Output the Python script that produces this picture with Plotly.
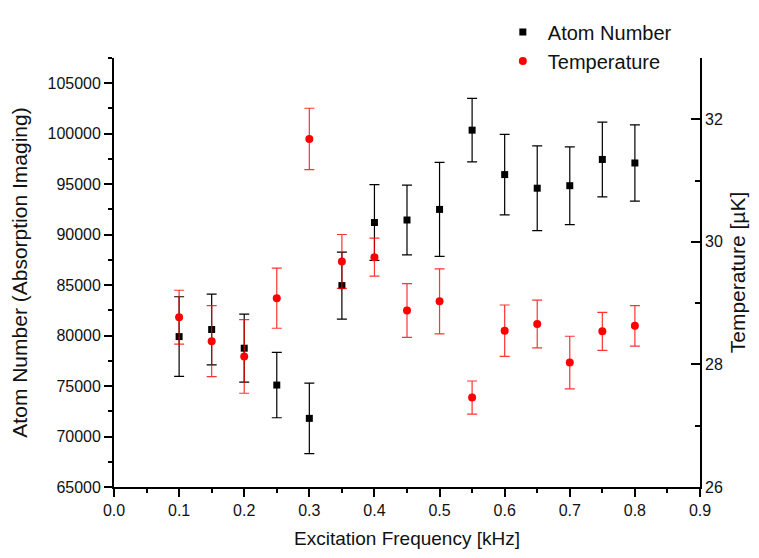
import plotly.graph_objects as go

freq = [0.1, 0.15, 0.2, 0.25, 0.3, 0.35, 0.4, 0.45, 0.5, 0.55, 0.6, 0.65, 0.7, 0.75, 0.8]
atoms = [79900, 80600, 78750, 75100, 71800, 84950, 91200, 91450, 92500, 100350, 95950, 94600, 94850, 97450, 97100]
atoms_err = [3950, 3500, 3370, 3240, 3500, 3320, 3750, 3450, 4660, 3150, 3990, 4200, 3850, 3700, 3770]
temps = [28.77, 28.38, 28.13, 29.08, 31.68, 29.68, 29.75, 28.88, 29.03, 27.46, 28.55, 28.66, 28.03, 28.54, 28.63]
temps_err = [0.44, 0.58, 0.60, 0.49, 0.50, 0.44, 0.31, 0.44, 0.53, 0.27, 0.42, 0.39, 0.43, 0.31, 0.33]

FONT = "Arial, Liberation Sans, sans-serif"

fig = go.Figure()
fig.add_trace(go.Scatter(
    x=freq, y=atoms, mode="markers", name="Atom Number",
    marker=dict(symbol="square", size=7, color="black"),
    error_y=dict(type="data", array=atoms_err, visible=True, color="black", thickness=1.2, width=5),
    yaxis="y",
))
fig.add_trace(go.Scatter(
    x=freq, y=temps, mode="markers", name="Temperature",
    marker=dict(symbol="circle", size=8, color="#ff0000"),
    error_y=dict(type="data", array=temps_err, visible=True, color="rgba(255,0,0,0.8)", thickness=1.2, width=5),
    yaxis="y2",
))

axis_common = dict(
    showgrid=False, zeroline=False, showline=True, linecolor="black", linewidth=1.8,
    ticks="outside", ticklen=8, tickwidth=1.5, tickcolor="black",
    tickfont=dict(family=FONT, size=16, color="#111"),
)

fig.update_layout(
    width=759, height=558,
    margin=dict(l=114, r=59, t=58, b=69),
    paper_bgcolor="white", plot_bgcolor="white",
    font=dict(family=FONT, color="#111"),
    xaxis=dict(
        **axis_common, range=[0, 0.9], tick0=0, dtick=0.1, tickformat=".1f",
        minor=dict(dtick=0.05, ticks="outside", ticklen=4, tickwidth=1.5, tickcolor="black"),
        title=dict(text="Excitation Frequency [kHz]", font=dict(family=FONT, size=19), standoff=14),
    ),
    yaxis=dict(
        **axis_common, range=[65000, 107500], tick0=65000, dtick=5000, tickformat="d",
        minor=dict(dtick=2500, ticks="outside", ticklen=4, tickwidth=1.5, tickcolor="black"),
        title=dict(text="Atom Number (Absorption Imaging)", font=dict(family=FONT, size=21), standoff=14),
    ),
    yaxis2=dict(
        showgrid=False, zeroline=False, showline=True, linecolor="black", linewidth=1.8,
        ticks="inside", ticklen=9, tickwidth=1.5, tickcolor="black",
        tickfont=dict(family=FONT, size=16, color="#111"),
        overlaying="y", side="right", range=[26, 33], tick0=26, dtick=2,
        minor=dict(dtick=1, ticks="inside", ticklen=5, tickwidth=1.5, tickcolor="black"),
        title=dict(text="Temperature [µK]", font=dict(family=FONT, size=21), standoff=8),
    ),
    legend=dict(
        x=0.655, y=1.106, xanchor="left", yanchor="top",
        font=dict(family=FONT, size=20, color="#111"),
        bgcolor="rgba(0,0,0,0)", tracegroupgap=0, itemwidth=40,
    ),
)

fig.write_html("out.html")
